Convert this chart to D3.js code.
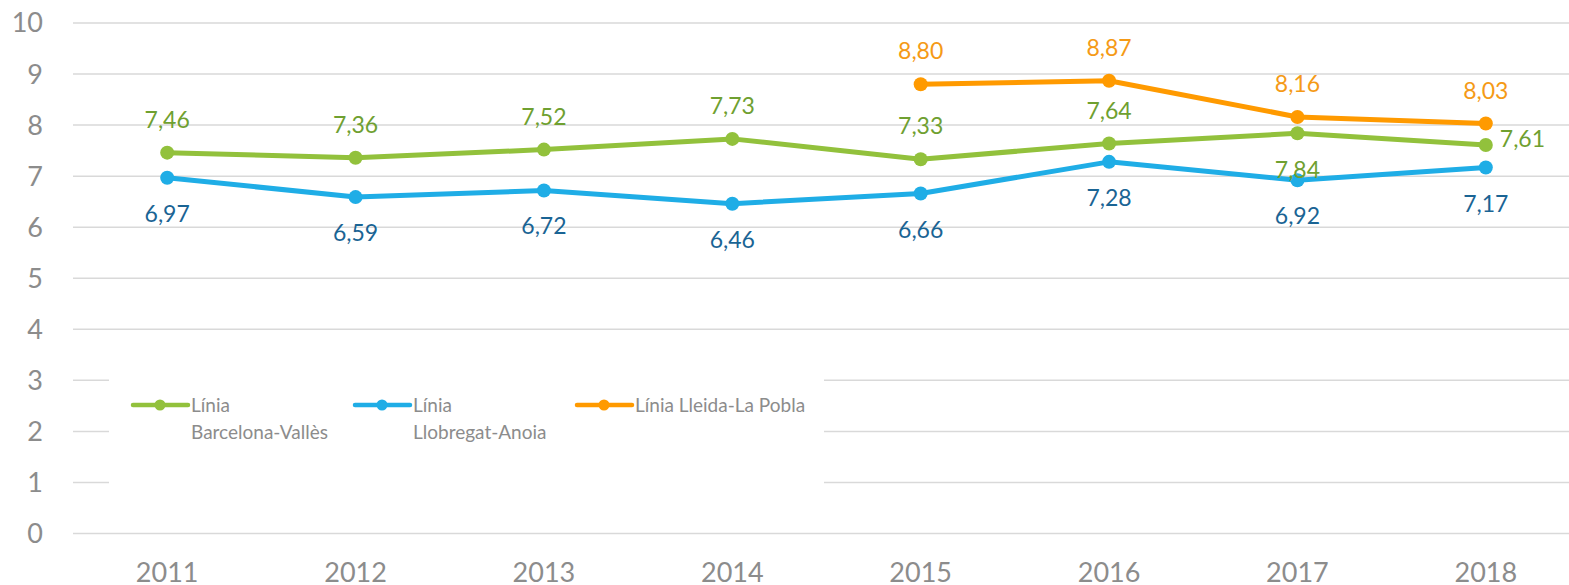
<!DOCTYPE html>
<html>
<head>
<meta charset="utf-8">
<script src="https://cdn.jsdelivr.net/npm/d3@7"></script>
<style>
  body { margin: 0; background: #fff; }
  svg { font-family: Lato, "Open Sans", sans-serif; }
</style>
</head>
<body>
<svg id="chart" width="1569" height="585"></svg>
<script>
// data
const years = ["2011", "2012", "2013", "2014", "2015", "2016", "2017", "2018"];
const barcelonaValles = [7.46, 7.36, 7.52, 7.73, 7.33, 7.64, 7.84, 7.61];
const llobregatAnoia = [6.97, 6.59, 6.72, 6.46, 6.66, 7.28, 6.92, 7.17];
const lleidaPoblaYears = ["2015", "2016", "2017", "2018"];
const lleidaPobla = [8.80, 8.87, 8.16, 8.03];
const yTicks = [0, 1, 2, 3, 4, 5, 6, 7, 8, 9, 10];

const width = 1569;
const height = 585;
const svg = d3.select("#chart");

const x = d3.scaleBand()
    .domain(years)
    .range([73, 1580]);

const y = d3.scaleLinear()
    .domain([0, 10])
    .range([533.5, 23]);

const fmt = v => d3.format(".2f")(v).replace(".", ",");

// gridlines
svg.append("g")
    .selectAll("line")
    .data(yTicks)
    .join("line")
    .attr("x1", 73)
    .attr("x2", width)
    .attr("y1", d => y(d))
    .attr("y2", d => y(d))
    .attr("stroke", "#d9d9d9")
    .attr("stroke-width", 1.5);

// y tick labels
svg.append("g")
    .selectAll("text")
    .data(yTicks)
    .join("text")
    .attr("x", 43)
    .attr("y", d => y(d))
    .attr("dy", "0.35em")
    .attr("text-anchor", "end")
    .attr("fill", "#8c8c8c")
    .style("font-size", "27px")
    .text(d => d);

// x labels
svg.append("g")
    .selectAll("text")
    .data(years)
    .join("text")
    .attr("x", d => x(d) + x.bandwidth() / 2)
    .attr("y", 582)
    .attr("text-anchor", "middle")
    .attr("fill", "#8c8c8c")
    .style("font-size", "27px")
    .text(d => d);

const cx = d => x(d) + x.bandwidth() / 2;

const series = [
    { name: "green", cats: years, values: barcelonaValles, line: "#92c13c", label: "#6fa030" },
    { name: "blue", cats: years, values: llobregatAnoia, line: "#1fade6", label: "#1a6494" },
    { name: "orange", cats: lleidaPoblaYears, values: lleidaPobla, line: "#ff9a00", label: "#f59a16" }
];

const line = d3.line().x(d => cx(d.cat)).y(d => y(d.v));

series.forEach(s => {
    const pts = s.cats.map((c, i) => ({ cat: c, v: s.values[i] }));
    const g = svg.append("g");
    g.append("path")
        .datum(pts)
        .attr("d", line)
        .attr("fill", "none")
        .attr("stroke", s.line)
        .attr("stroke-width", 5)
        .attr("stroke-linejoin", "round");
    g.selectAll("circle")
        .data(pts)
        .join("circle")
        .attr("cx", d => cx(d.cat))
        .attr("cy", d => y(d.v))
        .attr("r", 7)
        .attr("fill", s.line);
});

// data labels
series.forEach(s => {
    const pts = s.cats.map((c, i) => ({ cat: c, v: s.values[i] }));
    svg.append("g")
        .selectAll("text")
        .data(pts)
        .join("text")
        .attr("x", d => {
            if (s.name === "green" && d.cat === "2018") return cx(d.cat) + 14;
            return cx(d.cat);
        })
        .attr("y", d => {
            if (s.name === "green" && d.cat === "2018") return y(d.v) - 6;
            if (s.name === "green" && d.cat === "2017") return y(d.v) + 37;
            if (s.name === "blue") return y(d.v) + 36;
            return y(d.v) - 33;
        })
        .attr("dy", "0.35em")
        .attr("text-anchor", d => (s.name === "green" && d.cat === "2018") ? "start" : "middle")
        .attr("fill", s.label)
        .style("font-size", "23px")
        .text(d => fmt(d.v));
});

// legend
const legend = svg.append("g");
legend.append("rect")
    .attr("x", 109)
    .attr("y", 378)
    .attr("width", 715)
    .attr("height", 108)
    .attr("fill", "#fff");

const legendItems = [
    { x: 133, lines: ["Línia", "Barcelona-Vallès"], color: "#92c13c" },
    { x: 355, lines: ["Línia", "Llobregat-Anoia"], color: "#1fade6" },
    { x: 577, lines: ["Línia Lleida-La Pobla"], color: "#ff9a00" }
];

legendItems.forEach(it => {
    legend.append("line")
        .attr("x1", it.x)
        .attr("x2", it.x + 55)
        .attr("y1", 405)
        .attr("y2", 405)
        .attr("stroke", it.color)
        .attr("stroke-width", 4.5)
        .attr("stroke-linecap", "round");
    legend.append("circle")
        .attr("cx", it.x + 27)
        .attr("cy", 405)
        .attr("r", 5.5)
        .attr("fill", it.color);
    legend.selectAll(null)
        .data(it.lines)
        .join("text")
        .attr("x", it.x + 58)
        .attr("y", (d, i) => 405 + i * 27)
        .attr("dy", "0.35em")
        .attr("fill", "#8c8c8c")
        .style("font-size", "19px")
        .text(d => d);
});
</script>
</body>
</html>
